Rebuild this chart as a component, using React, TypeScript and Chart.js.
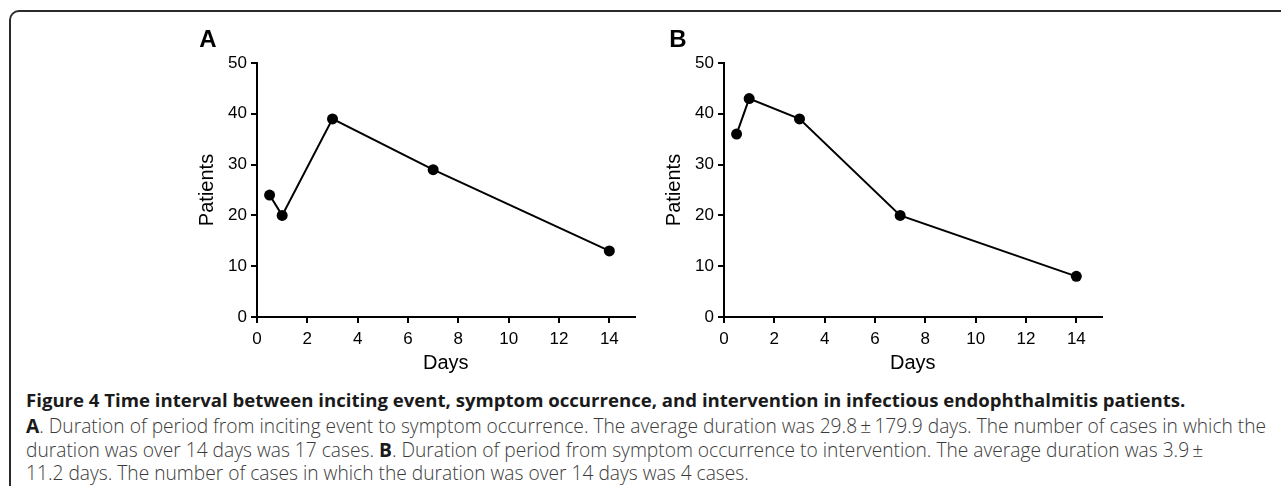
import React, { useEffect, useRef } from 'react';
import { Chart, registerables } from 'chart.js';

Chart.register(...registerables);

// ---- data ----
const daysA = [0.5, 1, 3, 7, 14];
const patientsA = [24, 20, 39, 29, 13];
const daysB = [0.5, 1, 3, 7, 14];
const patientsB = [36, 43, 39, 20, 8];
const xTicks = [0, 2, 4, 6, 8, 10, 12, 14];
const yTicks = [0, 10, 20, 30, 40, 50];
const xAxisTitle = 'Days';
const yAxisTitle = 'Patients';
const panelLabels = ['A', 'B'];

const captionTitle =
  'Figure 4 Time interval between inciting event, symptom occurrence, and intervention in infectious endophthalmitis patients.';
const captionLine1 =
  '. Duration of period from inciting event to symptom occurrence. The average duration was 29.8\u2009±\u2009179.9 days. The number of cases in which the';
const captionLine2a = 'duration was over 14 days was 17 cases. ';
const captionLine2b =
  '. Duration of period from symptom occurrence to intervention. The average duration was 3.9\u2009±';
const captionLine3 = '11.2 days. The number of cases in which the duration was over 14 days was 4 cases.';

const CW = 500;
const CH = 360;
const FONT = "'Liberation Sans', Arial, Helvetica, sans-serif";

function Panel({ xs, ys, left, top }: { xs: number[]; ys: number[]; left: number; top: number }) {
  const ref = useRef<HTMLCanvasElement | null>(null);
  useEffect(() => {
    if (!ref.current) return;
    const chart = new Chart(ref.current, {
      type: 'line',
      data: {
        datasets: [
          {
            data: xs.map((x, i) => ({ x, y: ys[i] })),
            borderColor: '#000',
            borderWidth: 2,
            pointRadius: 5.5,
            pointBackgroundColor: '#000',
            pointBorderWidth: 0,
            tension: 0,
            clip: false as any,
          },
        ],
      },
      options: {
        animation: false,
        responsive: false,
        devicePixelRatio: 1,
        layout: { padding: { top: 43, right: 15.5, left: 0, bottom: 0 } },
        plugins: { legend: { display: false }, tooltip: { enabled: false } },
        scales: {
          x: {
            type: 'linear',
            min: 0,
            max: 15,
            afterBuildTicks: (s: any) => {
              s.ticks = xTicks.map((v) => ({ value: v }));
            },
            afterFit: (s: any) => {
              s.height = 63;
            },
            grid: {
              display: true,
              drawOnChartArea: false,
              drawTicks: true,
              tickLength: 6,
              color: '#000',
              lineWidth: 2,
            },
            border: { display: true, color: '#000', width: 2 },
            ticks: {
              color: '#000',
              padding: 6,
              font: { family: FONT, size: 17 },
              maxRotation: 0,
              autoSkip: false,
            },
            title: {
              display: true,
              text: xAxisTitle,
              color: '#000',
              font: { family: FONT, size: 20 },
              padding: { top: 0, bottom: 5 },
            },
          },
          y: {
            type: 'linear',
            min: 0,
            max: 50,
            afterBuildTicks: (s: any) => {
              s.ticks = yTicks.map((v) => ({ value: v }));
            },
            afterFit: (s: any) => {
              s.width = 107;
            },
            grid: {
              display: true,
              drawOnChartArea: false,
              drawTicks: true,
              tickLength: 6,
              color: '#000',
              lineWidth: 2,
            },
            border: { display: true, color: '#000', width: 2 },
            ticks: {
              color: '#000',
              padding: 4,
              font: { family: FONT, size: 17 },
              autoSkip: false,
            },
            title: {
              display: true,
              text: yAxisTitle,
              color: '#000',
              font: { family: FONT, size: 20 },
              padding: { top: 45, bottom: 0 },
            },
          },
        },
      },
    } as any);
    return () => chart.destroy();
  }, [xs, ys]);
  return (
    <canvas
      ref={ref}
      width={CW}
      height={CH}
      style={{ position: 'absolute', left, top, width: CW, height: CH }}
    />
  );
}

const bodyStyle: React.CSSProperties = {
  position: 'absolute',
  left: 26,
  whiteSpace: 'nowrap',
  fontFamily: "'Open Sans', sans-serif",
  fontSize: 19.2,
  lineHeight: '24px',
  fontWeight: 300,
  color: '#3a3a3a',
};

const labelStyle: React.CSSProperties = {
  position: 'absolute',
  top: 24,
  width: 24,
  textAlign: 'center',
  fontFamily: FONT,
  fontWeight: 700,
  fontSize: 24,
  lineHeight: '30px',
  color: '#000',
};

export default function App() {
  return (
    <div
      style={{
        position: 'fixed',
        left: 0,
        top: 0,
        width: 1281,
        height: 495,
        background: '#fff',
        overflow: 'hidden',
      }}
    >
      <div
        style={{
          position: 'absolute',
          left: 9,
          top: 10,
          width: 1320,
          height: 476,
          borderTop: '2px solid #2a2a2a',
          borderLeft: '2px solid #2a2a2a',
          borderTopLeftRadius: 10,
          boxSizing: 'border-box',
        }}
      />
      <Panel xs={daysA} ys={patientsA} left={150} top={20} />
      <Panel xs={daysB} ys={patientsB} left={617} top={20} />
      <div style={{ ...labelStyle, left: 196 }}>{panelLabels[0]}</div>
      <div style={{ ...labelStyle, left: 666 }}>{panelLabels[1]}</div>
      <div style={{ ...bodyStyle, top: 388, fontSize: 18.6, fontWeight: 700, color: '#1a1a1a' }}>
        {captionTitle}
      </div>
      <div style={{ ...bodyStyle, top: 414 }}>
        <b style={{ fontWeight: 700, color: '#1a1a1a' }}>A</b>
        {captionLine1}
      </div>
      <div style={{ ...bodyStyle, top: 437.5 }}>
        {captionLine2a}
        <b style={{ fontWeight: 700, color: '#1a1a1a' }}>B</b>
        {captionLine2b}
      </div>
      <div style={{ ...bodyStyle, top: 461 }}>{captionLine3}</div>
    </div>
  );
}
